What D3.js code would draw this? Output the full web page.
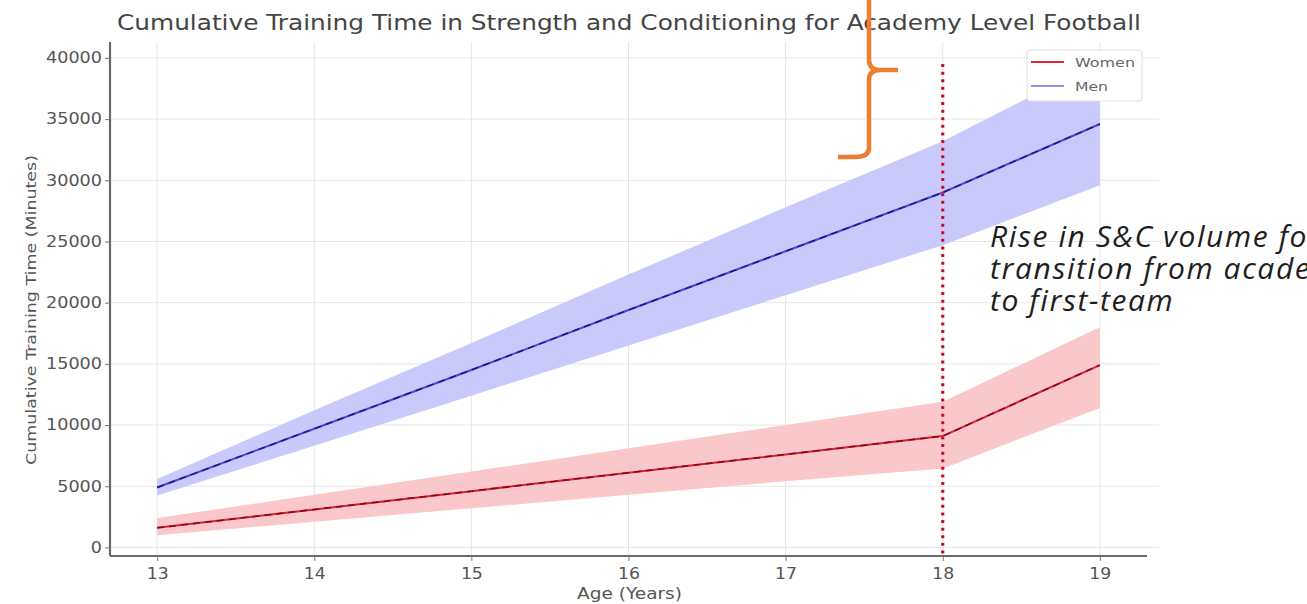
<!DOCTYPE html>
<html>
<head>
<meta charset="utf-8">
<script src="https://cdn.jsdelivr.net/npm/d3@7"></script>
<style>
  body { margin: 0; background: #fff; overflow: hidden; }
  svg { display: block; }
</style>
</head>
<body>
<div id="chart"></div>
<script>
const W = 1307, H = 604;

// values
const ages = [13, 14, 15, 16, 17, 18, 19];
const womenMean = [1600, 3100, 4600, 6100, 7600, 9100, 14900];
const womenLow = [1000, 2100, 3200, 4300, 5400, 6450, 11400];
const womenHigh = [2400, 4300, 6200, 8100, 10000, 11900, 18000];
const menMean = [4900, 9700, 14500, 19400, 24200, 29000, 34600];
const menLow = [4250, 8300, 12400, 16500, 20600, 24700, 29600];
const menHigh = [5600, 11200, 16700, 22300, 27800, 33200, 39700];
const yTicks = [0, 5000, 10000, 15000, 20000, 25000, 30000, 35000, 40000];
const transitionAge = 18;
const annotationLines = ["Rise in S&C volume for", "transition from academy", "to first-team"];

var margin = { top: 42, right: 160, bottom: 48, left: 110 };

var svg = d3.select("#chart").append("svg")
    .attr("width", W)
    .attr("height", H);

var x = d3.scaleLinear().domain([12.7, 19.3]).range([margin.left, W - margin.right]);
var y = d3.scaleLinear().domain([-700, 41300]).range([H - margin.bottom, margin.top]);

// grid
svg.append("g").selectAll("line.vg")
    .data(ages).enter().append("line")
    .attr("x1", d => x(d)).attr("x2", d => x(d))
    .attr("y1", y.range()[1]).attr("y2", y.range()[0])
    .attr("stroke", "#e6e6e6").attr("stroke-width", 1);
svg.append("g").selectAll("line.hg")
    .data(yTicks).enter().append("line")
    .attr("x1", x.range()[0]).attr("x2", x.range()[1] + 12)
    .attr("y1", d => y(d)).attr("y2", d => y(d))
    .attr("stroke", "#e6e6e6").attr("stroke-width", 1);

// bands
var area = function (low, high) {
    return d3.area()
        .x((d, i) => x(ages[i]))
        .y0((d, i) => y(low[i]))
        .y1((d, i) => y(high[i]))(ages);
};
var line = function (vals) {
    return d3.line().x((d, i) => x(ages[i])).y((d, i) => y(vals[i]))(ages);
};

svg.append("path").attr("d", area(menLow, menHigh)).attr("fill", "#c9c9fb");
svg.append("path").attr("d", area(womenLow, womenHigh)).attr("fill", "#fac8ca");

// mean lines - coloured line with darker dashes on top (as in the blurry original)
svg.append("path").attr("d", line(menMean)).attr("fill", "none")
    .attr("stroke", "#4848dc").attr("stroke-width", 2);
svg.append("path").attr("d", line(menMean)).attr("fill", "none")
    .attr("stroke", "#1c1c78").attr("stroke-width", 1.5).attr("stroke-dasharray", "7,5");
svg.append("path").attr("d", line(womenMean)).attr("fill", "none")
    .attr("stroke", "#dc2030").attr("stroke-width", 2);
svg.append("path").attr("d", line(womenMean)).attr("fill", "none")
    .attr("stroke", "#7c0a18").attr("stroke-width", 1.5).attr("stroke-dasharray", "7,5");

// transition marker
svg.append("line")
    .attr("x1", x(transitionAge)).attr("x2", x(transitionAge))
    .attr("y1", y(39500)).attr("y2", y.range()[0])
    .attr("stroke", "#e8203a").attr("stroke-width", 3.2)
    .attr("stroke-dasharray", "3,4.6");
svg.append("line")
    .attr("x1", x(transitionAge)).attr("x2", x(transitionAge))
    .attr("y1", y(39500)).attr("y2", y.range()[0])
    .attr("stroke", "#8a1020").attr("stroke-width", 1.6)
    .attr("stroke-dasharray", "2,5.6")
    .attr("stroke-dashoffset", -0.5);

// axes
var xAxis = svg.append("g")
    .attr("transform", "translate(0," + y.range()[0] + ")")
    .call(d3.axisBottom(x).tickValues(ages).tickFormat(d3.format("d")).tickSize(5).tickPadding(7));
var yAxis = svg.append("g")
    .attr("transform", "translate(" + x.range()[0] + ",0)")
    .call(d3.axisLeft(y).tickValues(yTicks).tickFormat(d3.format("d")).tickSize(5).tickPadding(3));

[xAxis, yAxis].forEach(function (a) {
    a.select(".domain").attr("stroke", "#6a6a6a").attr("stroke-width", 2.2);
    a.selectAll(".tick line").attr("stroke", "#777");
    a.selectAll(".tick text")
        .attr("fill", "#555")
        .style("font-family", "DejaVu Sans")
        .style("font-size", "15px");
});
xAxis.selectAll(".tick text").attr("textLength", 22).attr("lengthAdjust", "spacingAndGlyphs");
yAxis.selectAll(".tick text").each(function (d) {
    d3.select(this).attr("textLength", String(d).length * 11.2).attr("lengthAdjust", "spacingAndGlyphs");
});
xAxis.select(".domain").attr("d", "M" + x.range()[0] + ",0H" + x.range()[1]);
yAxis.select(".domain").attr("d", "M0," + y.range()[1] + "V" + y.range()[0]);

// titles
svg.append("text")
    .attr("x", 117).attr("y", 30)
    .attr("fill", "#444")
    .attr("textLength", 1024)
    .attr("lengthAdjust", "spacingAndGlyphs")
    .style("font-family", "DejaVu Sans")
    .style("font-size", "21px")
    .text("Cumulative Training Time in Strength and Conditioning for Academy Level Football");

svg.append("text")
    .attr("x", 577).attr("y", 599)
    .attr("fill", "#555")
    .attr("textLength", 105)
    .attr("lengthAdjust", "spacingAndGlyphs")
    .style("font-family", "DejaVu Sans")
    .style("font-size", "15px")
    .text("Age (Years)");

svg.append("text")
    .attr("transform", "translate(36,465) rotate(-90)")
    .attr("fill", "#555")
    .attr("textLength", 310)
    .attr("lengthAdjust", "spacingAndGlyphs")
    .style("font-family", "DejaVu Sans")
    .style("font-size", "14.5px")
    .text("Cumulative Training Time (Minutes)");

// legend
var legend = svg.append("g").attr("transform", "translate(1027,50)");
legend.append("rect")
    .attr("width", 115).attr("height", 51).attr("rx", 3)
    .attr("fill", "#fff").attr("stroke", "#e2e2e2");
var legendItems = [["Women", "#e0283c", 60], ["Men", "#9494e6", 33]];
legend.selectAll("g.item")
    .data(legendItems).enter().append("g")
    .attr("transform", (d, i) => "translate(0," + (12 + i * 24) + ")")
    .each(function (d) {
        var g = d3.select(this);
        g.append("line").attr("x1", 4).attr("x2", 37)
            .attr("stroke", d[1]).attr("stroke-width", 2.2);
        g.append("text").attr("x", 48).attr("y", 4.5)
            .attr("fill", "#666")
            .attr("textLength", d[2])
            .attr("lengthAdjust", "spacingAndGlyphs")
            .style("font-family", "DejaVu Sans")
            .style("font-size", "12px")
            .text(d[0]);
    });

// annotation text (clipped at the right edge like the original)
svg.append("g").selectAll("text")
    .data(annotationLines).enter().append("text")
    .attr("x", 990)
    .attr("y", (d, i) => 247 + i * 32)
    .attr("fill", "#1e1e1e")
    .style("font-family", "Open Sans")
    .style("font-style", "italic")
    .style("font-size", "30px")
    .style("letter-spacing", "1.6px")
    .text(d => d);

// orange brace
svg.append("path")
    .attr("d", "M869,-2 V60 Q869,70 880,70 H898 M880,70 Q869,70 869,80 V148 Q869,157 855,157 H838")
    .attr("fill", "none")
    .attr("stroke", "#ee7d30")
    .attr("stroke-width", 4.5);
</script>
</body>
</html>
